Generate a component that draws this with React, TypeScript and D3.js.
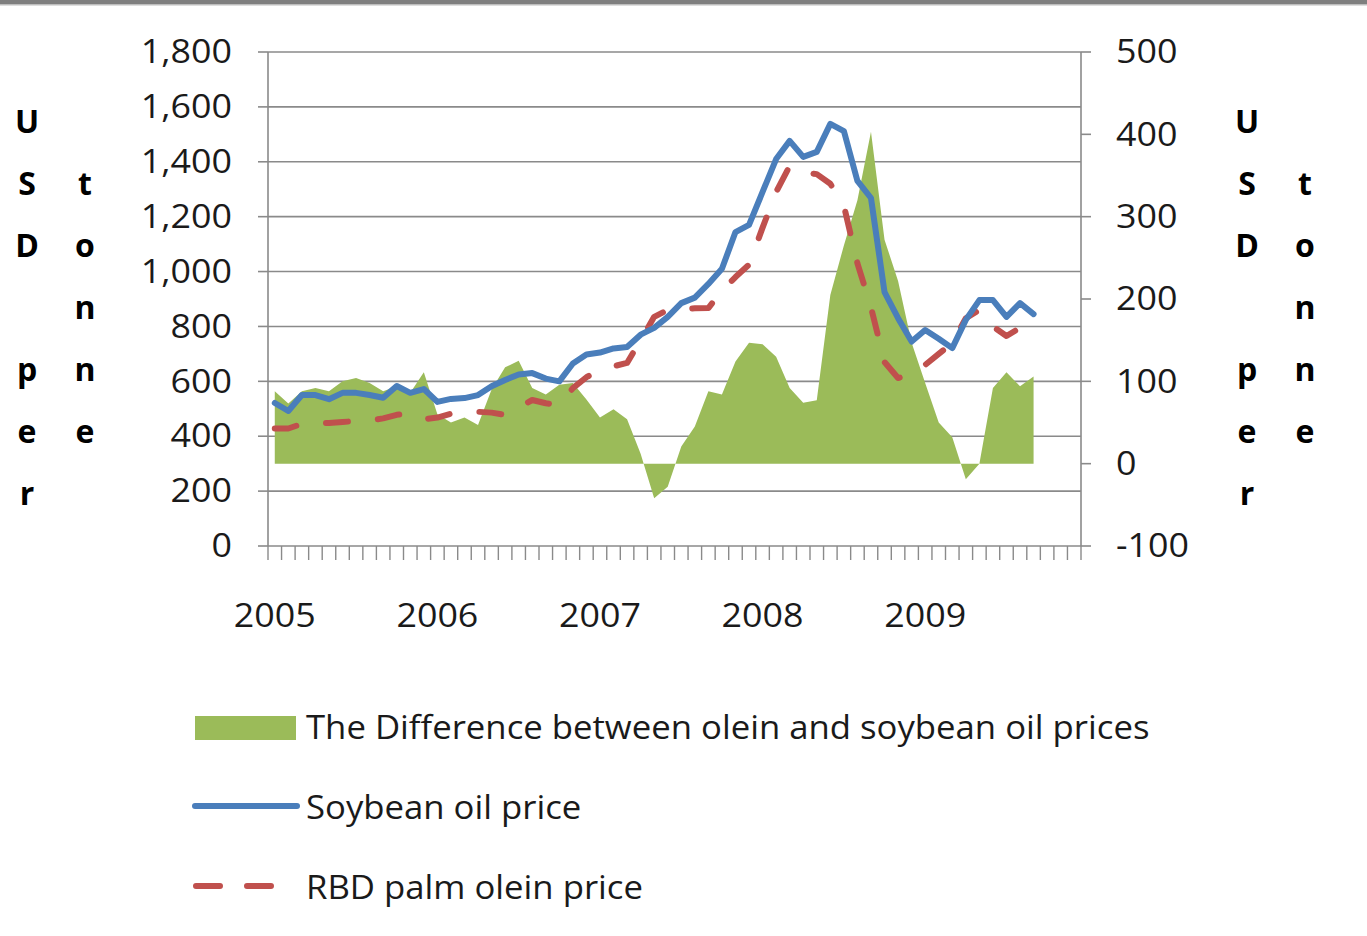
import React from "react";
import * as d3 from "d3";

// ---- data (monthly, Jan 2005 onward) ----
const years = ["2005", "2006", "2007", "2008", "2009"];
const months = d3.range(60).map((i) => `${2005 + Math.floor(i / 12)}-${String((i % 12) + 1).padStart(2, "0")}`);

const soybeanPrice = [
  521, 492, 550, 550, 535, 558, 558, 550, 540, 583, 558, 572,
  525, 536, 539, 550, 582, 605, 625, 630, 610, 600, 665, 698,
  705, 720, 725, 770, 795, 835, 885, 905, 955, 1010, 1144, 1170,
  1290, 1410, 1476, 1418, 1436, 1538, 1512, 1330, 1268, 925, 830, 745,
  787, 755, 721, 824, 896, 896, 835, 885, 845,
];
const oleinPrice = [
  428, 428, 445, 448, 448, 452, 455, 457, 465, 478, 482, 462,
  468, 482, 488, 489, 486, 478, 505, 532, 520, 514, 575, 615,
  641, 655, 667, 750, 835, 860, 864, 866, 867, 930, 980, 1025,
  1160, 1290, 1385, 1362, 1355, 1320, 1240, 1030, 870, 670, 612, 625,
  660, 700, 740, 830, 860, 800, 765, 795, 750,
];
const priceDifference = [
  88, 73, 88, 92, 88, 100, 104, 98, 88, 94, 86, 111,
  60, 50, 56, 47, 90, 117, 125, 92, 84, 96, 98, 78,
  56, 66, 54, 12, -42, -28, 21, 45, 88, 84, 124, 147,
  145, 130, 92, 74, 77, 205, 265, 320, 403, 272, 222, 147,
  98, 50, 32, -19, 0, 92, 111, 94, 106,
];
const leftTicks = [0, 200, 400, 600, 800, 1000, 1200, 1400, 1600, 1800];
const rightTicks = [-100, 0, 100, 200, 300, 400, 500];
const axisTitle = "USD per tonne";
const legendLabels = [
  "The Difference between olein and soybean oil prices",
  "Soybean oil price",
  "RBD palm olein price",
];

const GREEN = "#9BBB59";
const BLUE = "#4A7EBB";
const RED = "#C0504D";
const GRID = "#8a8a8a";
const FONT = "'Open Sans', sans-serif";

function SText({ x, y, sx, anchor, children }: { x: number; y: number; sx: number; anchor: string; children: React.ReactNode }) {
  return (
    <text transform={`translate(${x},${y}) scale(${sx},1)`} textAnchor={anchor} dominantBaseline="central">
      {children}
    </text>
  );
}

export default function App() {
  const W = 1367, H = 936;
  const L = 268, R = 1081, T = 52, B = 546;

  const x = d3.scaleBand<string>().domain(months).range([L, R]).paddingInner(0).paddingOuter(0);
  const bw = x.bandwidth();
  const cx = (i: number) => (x(months[i]) as number) + bw / 2;
  const yL = d3.scaleLinear().domain([0, 1800]).range([B, T]);
  const yR = d3.scaleLinear().domain([-100, 500]).range([B, T]);

  const area = d3
    .area<number>()
    .x((_, i) => cx(i))
    .y0(yR(0))
    .y1((d) => yR(d));
  const lineL = d3
    .line<number>()
    .x((_, i) => cx(i))
    .y((d) => yL(d));

  const chars = axisTitle.split("");
  const col1 = chars.slice(0, 7);
  const col2 = chars.slice(7);
  const rowBase = (k: number) => 133 + 62 * k;

  const titleCols = (x1: number, x2: number, keyp: string) => (
    <g key={keyp} fontFamily={FONT} fontWeight="bold" fontSize={32} textAnchor="middle" fill="#000">
      {col1.map((c, k) => (
        <text key={"a" + k} x={x1} y={rowBase(k)}>{c}</text>
      ))}
      {col2.map((c, k) => (
        <text key={"b" + k} x={x2} y={rowBase(k)}>{c}</text>
      ))}
    </g>
  );

  const TS = 1.12;
  const LS = 1.085;

  return (
    <svg width={W} height={H} style={{ position: "absolute", left: 0, top: 0, background: "#fff" }}>
      <rect x={0} y={0} width={W} height={H} fill="#fff" />
      <rect x={0} y={0} width={W} height={4} fill="#7f7f7f" />
      <rect x={0} y={4} width={W} height={1.5} fill="#bdbdbd" />

      {leftTicks.map((t) => (
        <line key={"g" + t} x1={L} x2={R} y1={yL(t)} y2={yL(t)} stroke={GRID} strokeWidth={1.6} />
      ))}
      <line x1={L} x2={L} y1={T} y2={B} stroke={GRID} strokeWidth={1.6} />
      {leftTicks.map((t) => (
        <line key={"lt" + t} x1={L - 10} x2={L} y1={yL(t)} y2={yL(t)} stroke={GRID} strokeWidth={1.6} />
      ))}
      <line x1={R} x2={R} y1={T} y2={B} stroke={GRID} strokeWidth={1.6} />
      {rightTicks.map((t) => (
        <line key={"rt" + t} x1={R} x2={R + 10} y1={yR(t)} y2={yR(t)} stroke={GRID} strokeWidth={1.6} />
      ))}
      {d3.range(months.length + 1).map((i) => {
        const xx = i < months.length ? (x(months[i]) as number) : R;
        return <line key={"bt" + i} x1={xx} x2={xx} y1={B} y2={B + 14} stroke={GRID} strokeWidth={1.4} />;
      })}

      <path d={area(priceDifference) || ""} fill={GREEN} />
      <path d={lineL(oleinPrice) || ""} fill="none" stroke={RED} strokeWidth={6} strokeDasharray="22 30" strokeLinecap="round" strokeLinejoin="round" />
      <path d={lineL(soybeanPrice) || ""} fill="none" stroke={BLUE} strokeWidth={6} strokeLinejoin="round" strokeLinecap="round" />

      <g fontFamily={FONT} fontSize={32} fill="#1a1a1a">
        {leftTicks.map((t) => (
          <SText key={"ll" + t} x={232} y={yL(t) - 1} sx={TS} anchor="end">
            {d3.format(",")(t)}
          </SText>
        ))}
        {rightTicks.map((t) => (
          <SText key={"rl" + t} x={1116} y={yR(t) - 1} sx={TS} anchor="start">
            {String(t)}
          </SText>
        ))}
        {years.map((yv, k) => (
          <SText key={"yl" + yv} x={cx(k * 12)} y={615} sx={TS} anchor="middle">
            {yv}
          </SText>
        ))}
      </g>

      {titleCols(27, 85, "lt")}
      {titleCols(1247, 1305, "rt")}

      <rect x={195} y={716} width={101} height={24} fill={GREEN} />
      <line x1={195} x2={297} y1={806} y2={806} stroke={BLUE} strokeWidth={6} strokeLinecap="round" />
      <line x1={196} x2={280} y1={886} y2={886} stroke={RED} strokeWidth={6} strokeDasharray="24 27" strokeLinecap="round" />
      <g fontFamily={FONT} fontSize={32} fill="#1a1a1a">
        {legendLabels.map((lab, k) => (
          <SText key={"lg" + k} x={306} y={727 + 80 * k} sx={LS} anchor="start">
            {lab}
          </SText>
        ))}
      </g>
    </svg>
  );
}
